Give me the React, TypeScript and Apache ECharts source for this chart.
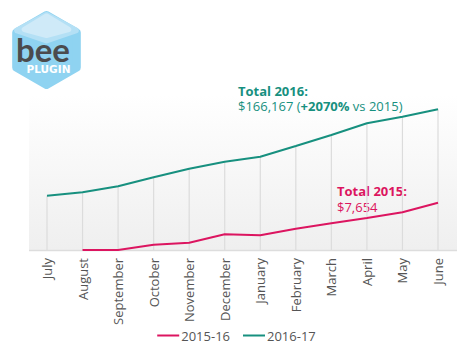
import React, { useEffect, useRef } from "react";
import * as echarts from "echarts";

const months = ["July", "August", "September", "October", "November", "December", "January", "February", "March", "April", "May", "June"];
// cumulative revenue index (chart units)
const series2015 = [null, 0, 0, 5.3, 7.3, 15.7, 14.7, 21.3, 26.7, 32, 37.7, 47.3];
const series2016 = [54.3, 57.7, 63.7, 72.7, 81.3, 88.3, 93.3, 104, 115, 126.7, 133.3, 140.7];
const legendNames = ["2015-16", "2016-17"];

const TEAL = "#17907f";
const RED = "#dc1560";
const FONT = "'Open Sans', sans-serif";

export default function App() {
  const ref = useRef<HTMLDivElement>(null);
  useEffect(() => {
    document.body.style.margin = "0";
    const chart = echarts.init(ref.current!, null, { renderer: "svg" });
    const cx = 46.5, cy = 50, R = 35;
    const h = (R * Math.sqrt(3)) / 2;
    const hex = [
      [cx, cy - R], [cx + h, cy - R / 2], [cx + h, cy + R / 2],
      [cx, cy + R], [cx - h, cy + R / 2], [cx - h, cy - R / 2],
    ];
    chart.setOption({
      animation: false,
      grid: { left: 47, right: 35, top: 100, bottom: 111 },
      xAxis: {
        type: "category",
        data: months,
        boundaryGap: false,
        axisLine: { show: false },
        axisTick: { show: false },
        splitLine: { show: false },
        axisLabel: { rotate: 90, color: "#555", fontSize: 13, fontFamily: FONT, margin: 8 },
      },
      yAxis: { type: "value", min: 0, max: 150, show: false },
      legend: {
        data: legendNames,
        bottom: 14,
        left: "center",
        icon: "rect",
        itemWidth: 22,
        itemHeight: 2,
        itemGap: 13,
        textStyle: { color: "#555", fontSize: 13, fontFamily: FONT, padding: [0, 0, 0, -3] },
      },
      graphic: [
        {
          type: "rect",
          z: -10,
          silent: true,
          shape: { x: 29, y: 95, width: 428, height: 155 },
          style: {
            fill: new echarts.graphic.LinearGradient(0, 0, 0, 1, [
              { offset: 0, color: "#ffffff" },
              { offset: 1, color: "#efefef" },
            ]),
          },
        },
        {
          type: "line",
          z: -5,
          silent: true,
          shape: { x1: 29, y1: 250.5, x2: 457, y2: 250.5 },
          style: { stroke: "#dddddd", lineWidth: 1.5 },
        },
        {
          type: "polygon",
          shape: { points: hex },
          style: { fill: "#8fd3f1", stroke: "#8fd3f1", lineWidth: 8, lineJoin: "round" },
        },
        {
          type: "polygon",
          shape: { points: [[cx, cy - R], [cx - h + 1, cy - R / 2 - 2], [cx, cy - R / 2 + 8], [cx + h - 1, cy - R / 2 - 2]] },
          style: { fill: "#b4e0f5", stroke: "#b4e0f5", lineWidth: 6, lineJoin: "round" },
        },
        {
          type: "polygon",
          shape: { points: [[cx, cy - R + 1], [cx - h + 8, cy - R / 2 - 3], [cx, cy - R / 2 + 3], [cx + h - 8, cy - R / 2 - 3]] },
          style: { fill: "#cfeaf8", stroke: "#cfeaf8", lineWidth: 5, lineJoin: "round" },
        },
        {
          type: "text",
          x: 16,
          y: 49,
          style: { text: "bee", fill: "#4b4b4d", font: "bold 33px Lato, sans-serif", verticalAlign: "middle", lineHeight: 26 },
        },
        {
          type: "text",
          x: 48.5,
          y: 69,
          style: { text: "PLUGIN", fill: "#ffffff", font: "bold 10.5px 'DejaVu Sans', sans-serif", align: "center", verticalAlign: "middle", lineHeight: 10 },
        },
        {
          type: "text",
          x: 238,
          y: 83.5,
          style: { text: "Total 2016:", fill: TEAL, font: `bold 13px ${FONT}`, lineHeight: 14 },
        },
        {
          type: "text",
          x: 238,
          y: 98.5,
          style: {
            text: "$166,167 ({b|+2070%} vs 2015)",
            fill: TEAL,
            font: `13px ${FONT}`,
            lineHeight: 14,
            rich: { b: { fontWeight: "bold", fontSize: 13, fontFamily: FONT, fill: TEAL, lineHeight: 14 } },
          },
        },
        {
          type: "text",
          x: 337,
          y: 183.5,
          style: { text: "Total 2015:", fill: RED, font: `bold 13px ${FONT}`, lineHeight: 14 },
        },
        {
          type: "text",
          x: 337,
          y: 199.5,
          style: { text: "$7,654", fill: RED, font: `13px ${FONT}`, lineHeight: 14 },
        },
      ],
      series: [
        {
          type: "bar",
          data: series2016,
          barWidth: 1.2,
          silent: true,
          z: 1,
          itemStyle: { color: "#dcdcdc" },
        },
        {
          name: legendNames[0],
          type: "line",
          data: series2015,
          symbol: "none",
          z: 3,
          lineStyle: { color: RED, width: 2 },
          itemStyle: { color: RED },
        },
        {
          name: legendNames[1],
          type: "line",
          data: series2016,
          symbol: "none",
          z: 3,
          lineStyle: { color: TEAL, width: 2 },
          itemStyle: { color: TEAL },
        },
      ],
    });
    return () => chart.dispose();
  }, []);
  return <div ref={ref} style={{ width: 473, height: 361 }} />;
}
